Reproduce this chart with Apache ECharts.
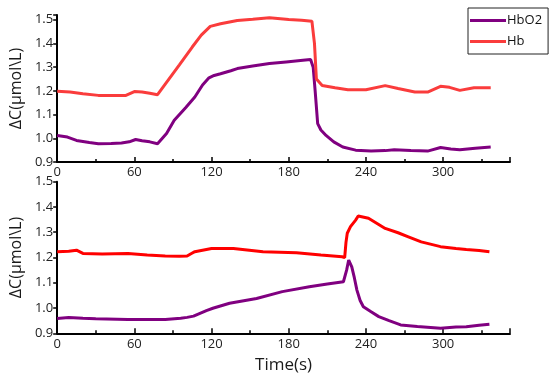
<!DOCTYPE html>
<html><head><meta charset="utf-8">
<script src="https://cdn.jsdelivr.net/npm/echarts@6/dist/echarts.min.js"></script>
<style>html,body{margin:0;padding:0;background:#fff}#c{width:550px;height:380px}</style>
</head><body><div id="c"></div>
<script>
// Top panel
var topHbT = [0, 10, 20, 32, 45, 53, 60, 66, 72, 78, 85, 95, 105, 112, 119, 127, 140, 152, 165, 180, 190, 198, 200, 201.5, 206, 216, 226, 240, 255, 265, 278, 288, 298, 305, 313, 324, 337];
var topHbV = [1.198, 1.195, 1.188, 1.181, 1.18, 1.18, 1.197, 1.195, 1.19, 1.184, 1.236, 1.31, 1.385, 1.435, 1.472, 1.483, 1.497, 1.502, 1.508, 1.501, 1.498, 1.494, 1.40, 1.25, 1.223, 1.213, 1.205, 1.205, 1.222, 1.21, 1.195, 1.195, 1.219, 1.215, 1.202, 1.213, 1.213];
var topHbO2T = [0, 8, 15, 25, 32, 42, 50, 56, 61, 66, 72, 78, 85, 91, 100, 107, 113, 118, 122, 127, 135, 140, 152, 165, 178, 191, 197, 199, 200.5, 202.5, 205, 209, 215, 222, 232, 244, 255, 262, 275, 288, 298, 306, 313, 325, 337];
var topHbO2V = [1.012, 1.005, 0.991, 0.982, 0.977, 0.978, 0.98, 0.985, 0.995, 0.99, 0.985, 0.977, 1.02, 1.076, 1.13, 1.174, 1.225, 1.255, 1.265, 1.272, 1.285, 1.294, 1.305, 1.315, 1.322, 1.329, 1.332, 1.30, 1.202, 1.062, 1.035, 1.012, 0.985, 0.963, 0.95, 0.946, 0.948, 0.952, 0.948, 0.946, 0.961, 0.955, 0.952, 0.958, 0.963];
// Bottom panel
var botHbT = [0, 9, 15, 20, 35, 55, 70, 84, 95, 101, 104, 107, 113, 120, 137, 160, 186, 205, 221.5, 223.5, 224.5, 225.5, 228, 232, 234, 242, 255, 265, 273, 283, 298, 310, 318, 328, 336];
var botHbV = [1.223, 1.225, 1.229, 1.216, 1.214, 1.216, 1.21, 1.206, 1.205, 1.206, 1.215, 1.223, 1.229, 1.236, 1.236, 1.223, 1.219, 1.21, 1.203, 1.2, 1.26, 1.296, 1.322, 1.348, 1.364, 1.355, 1.315, 1.298, 1.282, 1.262, 1.243, 1.236, 1.232, 1.228, 1.223];
var botHbO2T = [0, 9, 20, 30, 55, 84, 96, 101, 106, 111, 116, 121, 134, 155, 175, 196, 210, 222.5, 224, 225, 226.6, 227.5, 229, 231, 233, 235.5, 238, 244, 250, 258, 267, 280, 298, 310, 318, 328, 336];
var botHbO2V = [0.959, 0.963, 0.96, 0.958, 0.955, 0.955, 0.96, 0.963, 0.968, 0.979, 0.99, 0.999, 1.019, 1.038, 1.065, 1.084, 1.095, 1.104, 1.111, 1.15, 1.19, 1.185, 1.163, 1.12, 1.071, 1.03, 1.005, 0.985, 0.966, 0.95, 0.933, 0.927, 0.92, 0.925, 0.926, 0.932, 0.936];
var xTicks = [0, 60, 120, 180, 240, 300];
var yTicks = [0.9, 1.0, 1.1, 1.2, 1.3, 1.4, 1.5];

function pairs(t, v) { return t.map(function (x, i) { return [x, v[i]]; }); }

var FONT = 'Open Sans';
var purple = '#800080', redTop = '#FA3C3C', redBot = '#FF0000';

function xAx(idx, name) {
  return {
    type: 'value', gridIndex: idx, min: 0, max: 352, interval: 60,
    name: name, nameLocation: 'middle', nameGap: 23,
    nameTextStyle: { fontFamily: FONT, fontSize: 17, color: '#1a1a1a' },
    axisLine: { onZero: false, lineStyle: { color: '#000', width: 2 } },
    axisTick: { inside: true, length: 5, lineStyle: { color: '#000', width: 1.5 } },
    minorTick: { show: true, splitNumber: 2, length: 3, lineStyle: { color: '#000', width: 1.5 } },
    splitLine: { show: false },
    axisLabel: { fontFamily: FONT, fontSize: 13, color: '#222', margin: 4,
      formatter: function (v) { return xTicks.indexOf(v) >= 0 ? String(v) : ''; } }
  };
}
function yAx(idx, max) {
  return {
    type: 'value', gridIndex: idx, min: 0.9, max: max, interval: 0.1,
    name: 'ΔC(μmol\\L)', nameLocation: 'middle', nameGap: 28, nameRotate: 90,
    nameTextStyle: { fontFamily: FONT, fontSize: 16, color: '#1a1a1a' },
    axisLine: { lineStyle: { color: '#000', width: 2 } },
    axisTick: { inside: false, length: 4, lineStyle: { color: '#000', width: 1.5 } },
    splitLine: { show: false },
    axisLabel: { fontFamily: FONT, fontSize: 13, color: '#222', margin: 4,
      formatter: function (v) {
        for (var i = 0; i < yTicks.length; i++) if (Math.abs(v - yTicks[i]) < 1e-6) return yTicks[i].toFixed(1);
        return '';
      } }
  };
}
function line(name, data, color, xi, yi) {
  return { type: 'line', name: name, data: data, xAxisIndex: xi, yAxisIndex: yi,
    showSymbol: false, symbol: 'none', lineStyle: { color: color, width: 3 }, itemStyle: { color: color },
    animation: false };
}

var chart = echarts.init(document.getElementById('c'), null, { renderer: 'canvas' });
chart.setOption({
  backgroundColor: '#fff',
  animation: false,
  grid: [
    { left: 51, right: 40, top: 15, height: 147 },
    { left: 51, right: 40, top: 181.7, height: 151.6 }
  ],
  xAxis: [xAx(0, ''), xAx(1, 'Time(s)')],
  yAxis: [yAx(0, 1.52), yAx(1, 1.5)],
  legend: {
    orient: 'vertical', left: 468, top: 8, width: 80,
    data: ['HbO2', 'Hb'],
    borderColor: '#222', borderWidth: 1, padding: [6, 6, 6, 2],
    itemWidth: 36, itemHeight: 3, itemGap: 8, icon: 'rect',
    textStyle: { fontFamily: FONT, fontSize: 13, color: '#111', padding: [0, 0, 0, -4] }
  },
  series: [
    line('HbO2', pairs(topHbO2T, topHbO2V), purple, 0, 0),
    line('Hb', pairs(topHbT, topHbV), redTop, 0, 0),
    line('HbO2', pairs(botHbO2T, botHbO2V), purple, 1, 1),
    line('Hb', pairs(botHbT, botHbV), redBot, 1, 1)
  ]
});
</script></body></html>
